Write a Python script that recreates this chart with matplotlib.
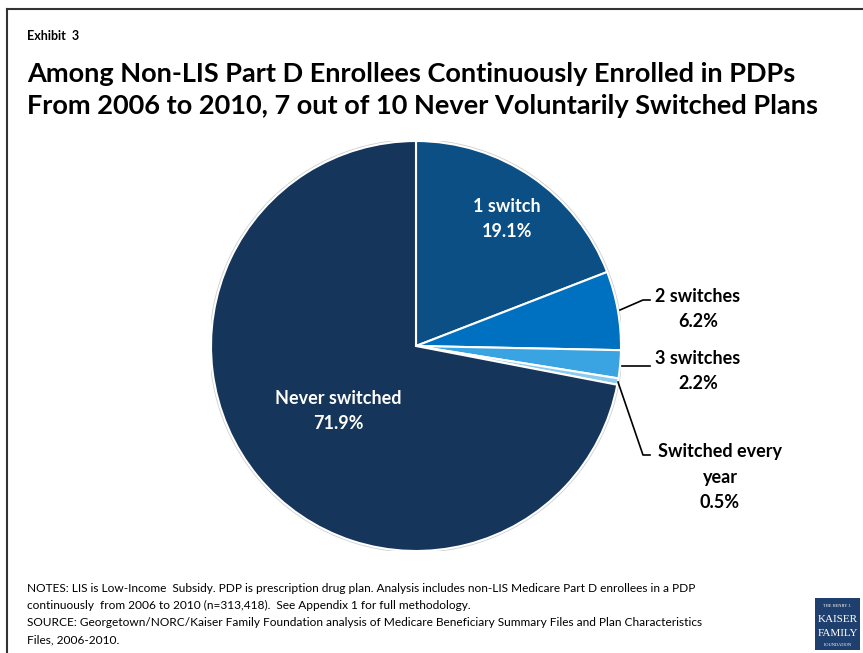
import matplotlib
matplotlib.use("Agg")
import matplotlib.pyplot as plt
from matplotlib.patches import Rectangle
from matplotlib.lines import Line2D

categories = ["1 switch", "2 switches", "3 switches", "Switched every\nyear", "Never switched"]
values = [19.1, 6.2, 2.2, 0.5, 71.9]
colors = ["#0b4f85", "#0070c0", "#3aa3e1", "#8ccbf0", "#16355b"]

title = "Among Non-LIS Part D Enrollees Continuously Enrolled in PDPs\nFrom 2006 to 2010, 7 out of 10 Never Voluntarily Switched Plans"
notes = ("NOTES: LIS is Low-Income  Subsidy. PDP is prescription drug plan. Analysis includes non-LIS Medicare Part D enrollees in a PDP\n"
         "continuously  from 2006 to 2010 (n=313,418).  See Appendix 1 for full methodology.\n"
         "SOURCE: Georgetown/NORC/Kaiser Family Foundation analysis of Medicare Beneficiary Summary Files and Plan Characteristics\n"
         "Files, 2006-2010.")

plt.rcParams['font.family'] = ['Lato', 'DejaVu Sans']

W, H = 863, 653
fig = plt.figure(figsize=(W / 100, H / 100), dpi=100)

def fx(px):
    return px / W

def fy(py):
    return 1 - py / H

# frame lines (left and top)
fig.add_artist(Line2D([fx(7), fx(7)], [fy(9), fy(653)], color="#333333", lw=1.5))
fig.add_artist(Line2D([fx(7), fx(863)], [fy(9), fy(9)], color="#333333", lw=1.5))

fig.text(fx(27), fy(36), "Exhibit  3", fontsize=9, fontweight="bold", va="center", ha="left")
fig.text(fx(27), fy(90), title, fontsize=19.5, fontweight="bold", va="center", ha="left",
         linespacing=1.45)

cx, cy, r = 416, 346, 205
ax = fig.add_axes([fx(cx - r), fy(cy + r), (2 * r) / W, (2 * r) / H])
wedges, _ = ax.pie(values, colors=colors, startangle=90, counterclock=False,
                   wedgeprops=dict(edgecolor="white", linewidth=1.5))
ax.set_xlim(-1, 1)
ax.set_ylim(-1, 1)
ax.set_aspect("equal")
ax.axis("off")
circ = plt.Circle((0, 0), 1.005, fill=False, edgecolor="#d0d0d0", lw=1.2, zorder=0)
ax.add_patch(circ)

pct = [f"{v}%" for v in values]
lkw = dict(fontsize=13, fontweight="bold", ha="center", va="center", linespacing=1.6)
fig.text(fx(507), fy(219), f"{categories[0]}\n{pct[0]}", color="white", **lkw)
fig.text(fx(338), fy(411), f"{categories[4]}\n{pct[4]}", color="white", **lkw)
fig.text(fx(698), fy(309), f"{categories[1]}\n{pct[1]}", color="black", **lkw)
fig.text(fx(698), fy(371), f"{categories[2]}\n{pct[2]}", color="black", **lkw)
fig.text(fx(720), fy(477), f"{categories[3]}\n{pct[3]}", color="black", **lkw)

# leader lines
for xs, ys in [([620, 643, 650], [310, 300, 300]),
               ([622, 650], [366, 366]),
               ([618, 643, 650], [382, 455, 455])]:
    fig.add_artist(Line2D([fx(x) for x in xs], [fy(y) for y in ys], color="black", lw=1.2))

fig.text(fx(27), fy(614), notes, fontsize=8.6, ha="left", va="center", linespacing=1.7)

# logo
logo = Rectangle((fx(815), fy(650)), fx(45), (52) / H, facecolor="#1f3f6e", edgecolor="none")
fig.add_artist(logo)
fig.text(fx(837.5), fy(606), "THE HENRY J.", color="white", fontsize=3.2, ha="center", va="center", family="Liberation Serif")
fig.text(fx(837.5), fy(619), "KAISER", color="white", fontsize=8, ha="center", va="center", family="Liberation Serif")
fig.text(fx(837.5), fy(633), "FAMILY", color="white", fontsize=8, ha="center", va="center", family="Liberation Serif")
fig.text(fx(837.5), fy(645), "FOUNDATION", color="white", fontsize=3.2, ha="center", va="center", family="Liberation Serif")

fig.savefig("out.png", dpi=100)
